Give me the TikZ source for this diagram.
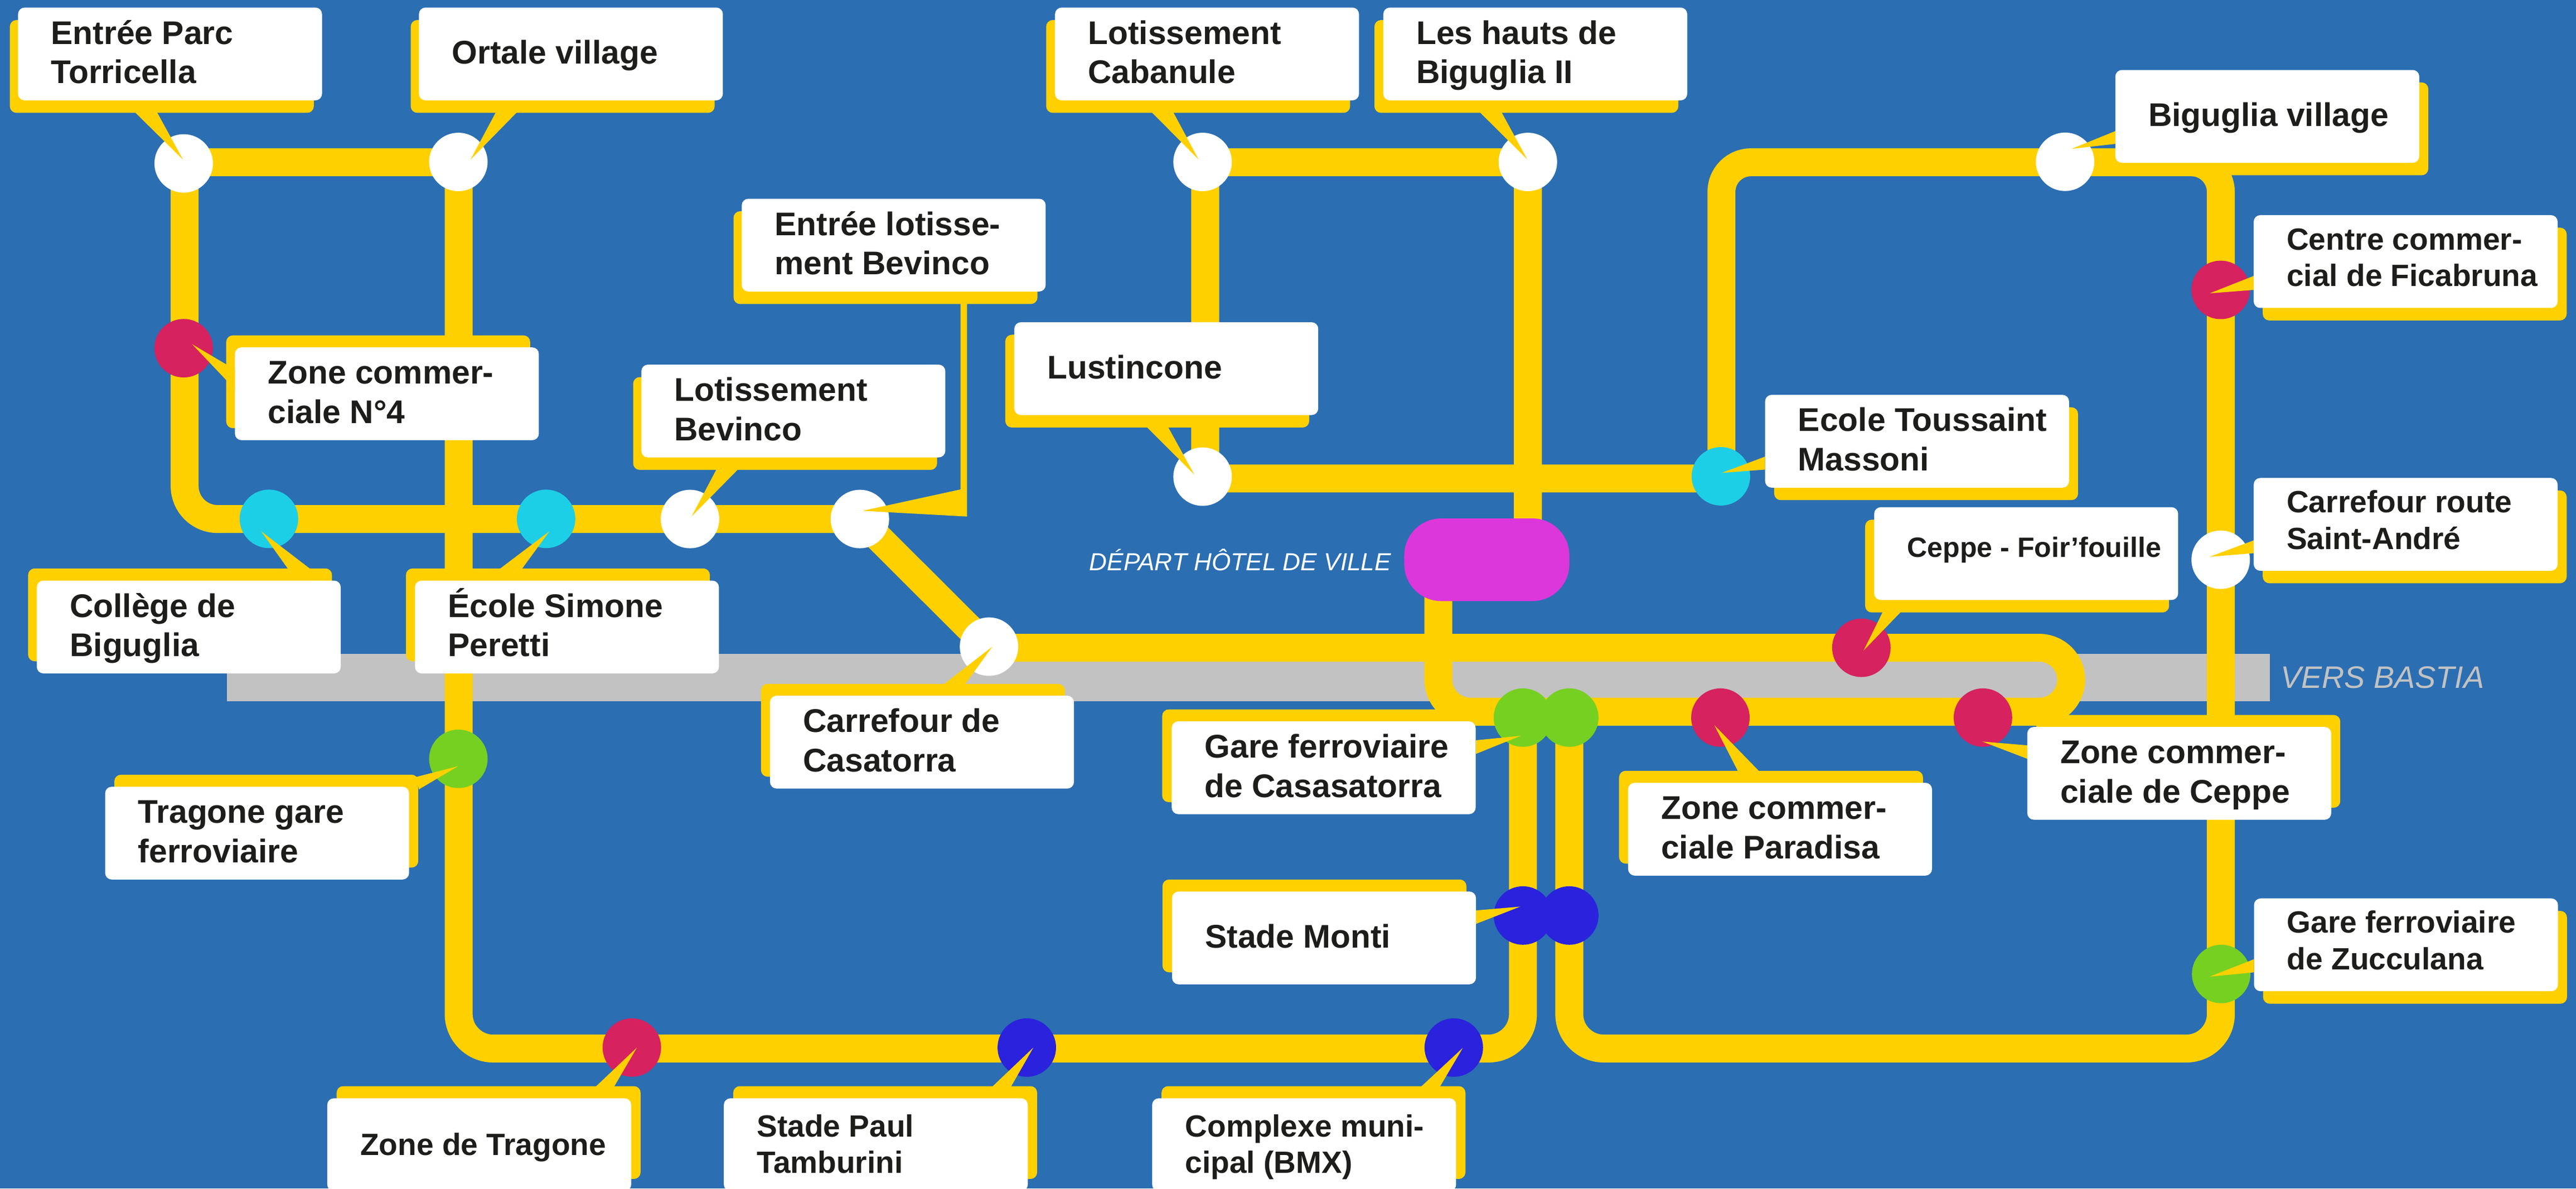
\documentclass[tikz,border=0pt]{standalone}
\usepackage{fontspec}
\setmainfont{Liberation Sans}
\definecolor{sea}{HTML}{2B6EB2}
\definecolor{road}{HTML}{C2C2C2}
\definecolor{yel}{HTML}{FFD000}
\definecolor{pinkstop}{HTML}{D6225F}
\definecolor{cyanstop}{HTML}{1DCFE6}
\definecolor{greenstop}{HTML}{76D022}
\definecolor{bluestop}{HTML}{2A22DC}
\definecolor{magstop}{HTML}{DC37DB}
\definecolor{ink}{HTML}{1D1D1B}
\tikzset{
  track/.style={draw=yel,line width=17pt,line cap=butt,line join=round},
  stopdot/.style={circle,minimum size=35.6pt,inner sep=0pt,outer sep=0pt},
  shadowbox/.style={anchor=north west,fill=yel,rounded corners=4pt,minimum width=185pt,minimum height=56.5pt,inner sep=0pt,outer sep=0pt},
  whitebox/.style={anchor=north west,fill=white,rounded corners=4pt,minimum width=185pt,inner xsep=4pt,inner ysep=0pt,minimum height=56.5pt,outer sep=0pt,text=ink},
  pointer/.style={fill=yel}
}
\newcommand{\bigtext}{\fontsize{19.95}{24}\bfseries\selectfont\def\lbld{8pt}}
\newcommand{\sidetext}{\fontsize{18.7}{22.3}\bfseries\selectfont\def\lbld{12pt}}
\newcommand{\lowtext}{\fontsize{18.7}{22.3}\bfseries\selectfont\def\lbld{7.4pt}}
\newcommand{\tinytext}{\fontsize{17}{20}\bfseries\selectfont\def\lbld{16pt}}
\newcommand{\lbl}[7][\bigtext]{%
  \node[shadowbox] (#2s) at ({#3+#5},{#4+#6}) {};
  \node[whitebox] (#2) at (#3,#4) {\hbox to 177pt{\hspace{16.1pt}\vbox{\hsize=160pt #1\parindent=0pt\raggedright\rule{0pt}{20pt}#7\rule[-\lbld]{0pt}{\lbld}\par}\hss}};
}
\begin{document}
\begin{tikzpicture}[x=1pt,y=-1pt]
\useasboundingbox (0,0) rectangle (1568,723.6);
\fill[sea] (0,0) rectangle (1568,723.6);
% road band
\fill[road] (138,398) rectangle (1381.7,427);
% track corners and junctions
\coordinate (c1) at (112.4,98.8);
\coordinate (c2) at (279.2,98.8);
\coordinate (c3) at (112.4,316);
\coordinate (c4) at (279.2,638.4);
\coordinate (c5) at (927,638.4);
\coordinate (c6) at (927,433.3);
\coordinate (m1) at (112.4,212);
\coordinate (j7) at (523.4,316);
\coordinate (j8) at (602,394.4);
\coordinate (l1) at (1260.7,394.4);
\coordinate (l2) at (1260.7,433.3);
\coordinate (l3) at (875.5,433.3);
\coordinate (l4) at (875.5,340);
\coordinate (u1) at (1047.8,291.3);
\coordinate (u2) at (733.6,291.3);
\coordinate (u3) at (733.6,98.8);
\coordinate (u4) at (930,98.8);
\coordinate (u5) at (930,340);
\coordinate (r1) at (955.2,433.3);
\coordinate (r2) at (955.2,638.4);
\coordinate (r3) at (1351.8,638.4);
\coordinate (r4) at (1351.8,98.8);
\coordinate (r5) at (1047.8,98.8);
% tracks
\draw[track,rounded corners=14pt] (c2) -- (c1) -- (m1);
\draw[track,rounded corners=20pt] (m1) -- (c3) -- (j7);
\draw[track,rounded corners=21pt] (c2) -- (c4) -- (c5) -- (c6);
\draw[track] (j7) -- (j8);
\draw[track,rounded corners=19.45pt] (j8) -- (l1) -- (l2) -- (l3) -- (l4);
\draw[track,rounded corners=14pt] (u1) -- (u2) -- (u3) -- (u4) -- (u5);
\draw[track,rounded corners=21pt] (r1) -- (r2) -- (r3) -- (1351.8,300);
\draw[track,rounded corners=18pt] (1351.8,300) -- (r4) -- (r5) -- (u1);
% departure
\node[fill=magstop,rounded corners=22.5pt,minimum width=100.5pt,minimum height=50.3pt,inner sep=0pt] (depart) at (905,340.8) {};
\node[anchor=base east,inner sep=0pt,text=white] (departl) at (847,347.2) {\fontsize{15}{16}\itshape\selectfont DÉPART HÔTEL DE VILLE};
\node[anchor=base west,inner sep=0pt,text=road] (bastia) at (1388,419) {\fontsize{18.9}{20}\itshape\selectfont VERS BASTIA};
% stops
\foreach \n/\x/\y/\c in {
 parc/111.8/99.5/white, ortale/279/98.6/white, zn4/111.8/212/pinkstop,
 college/163.7/315.9/cyanstop, ecole/332.4/315.9/cyanstop, lotb/420/316/white,
 entb/523.4/316/white, casat/602/393.7/white, trag/279/462/greenstop,
 ztrag/384.6/637.8/pinkstop, paul/625/637.8/bluestop, bmx/884.9/637.8/bluestop,
 garea/927/436.9/greenstop, gareb/955.2/436.9/greenstop,
 montia/927/557.4/bluestop, montib/955.2/557.4/bluestop,
 parad/1047.2/436.9/pinkstop, foir/1133/394.4/pinkstop, zcep/1207/436.9/pinkstop,
 zucc/1352/593/greenstop, andre/1351.7/340.8/white, fica/1351.7/176.5/pinkstop,
 bigv/1257/98.5/white, mass/1047.5/290/cyanstop, lust/732/290.2/white,
 caba/732/98.6/white, hauts/930/98.6/white}
 \node[stopdot,fill=\c] (\n) at (\x,\y) {};
% labels
\lbl{Lparc}{11}{4.6}{-5}{7.6}{Entrée Parc\\Torricella}
\lbl{Lortale}{255}{4.6}{-5}{7.6}{Ortale village}
\lbl{Lentb}{451.5}{121}{-5}{7.6}{Entrée lotisse-\\ment Bevinco}
\lbl{Lzn4}{143}{211.5}{-5.3}{-7.3}{Zone commer-\\ciale N°4}
\lbl{Llotb}{390.4}{222}{-5}{7.6}{Lotissement\\Bevinco}
\lbl{Lcollege}{22.4}{353.5}{-5.3}{-7.4}{Collège de\\Biguglia}
\lbl{Lecole}{252.6}{353.5}{-5.5}{-7.4}{École Simone\\Peretti}
\lbl{Ltrag}{64}{479}{5.6}{-7.3}{Tragone gare\\ferroviaire}
\lbl{Lcasat}{468.7}{423.6}{-5.5}{-7.2}{Carrefour de\\Casatorra}
\lbl{Lcaba}{642.2}{4.6}{-5.4}{7.6}{Lotissement\\Cabanule}
\lbl{Lhauts}{842}{4.6}{-5.4}{7.6}{Les hauts de\\Biguglia II}
\lbl{Llust}{617.4}{196.2}{-5.5}{7.6}{Lustincone}
\lbl{Lbigv}{1287.6}{42.6}{5.5}{7.6}{Biguglia village}
\lbl[\sidetext]{Lfica}{1371.8}{131}{5.5}{7.6}{Centre commer-\\cial de Ficabruna}
\lbl{Lmass}{1074.4}{240.4}{5.5}{7.6}{Ecole Toussaint\\Massoni}
\lbl[\sidetext]{Landre}{1371.8}{291}{5.5}{7.6}{Carrefour route\\Saint-André}
\lbl[\tinytext]{Lfoir}{1140.8}{308.8}{-5.5}{7.6}{Ceppe - Foir’fouille}
\lbl{Lzcep}{1234}{442.6}{5.5}{-7.3}{Zone commer-\\ciale de Ceppe}
\lbl{Lparad}{991}{476.6}{-5.5}{-7.3}{Zone commer-\\ciale Paradisa}
\lbl{Lgare}{713.2}{439.2}{-5.8}{-7.3}{Gare ferroviaire\\de Casasatorra}
\lbl{Lmonti}{713.4}{542.8}{-5.8}{-7.3}{Stade Monti}
\lbl[\sidetext]{Lzucc}{1372}{547}{5.5}{7.6}{Gare ferroviaire\\de Zucculana}
\lbl[\lowtext]{Lztrag}{199.2}{668.7}{5.7}{-7.4}{Zone de Tragone}
\lbl[\lowtext]{Lpaul}{440.6}{668.7}{5.7}{-7.4}{Stade Paul\\Tamburini}
\lbl[\lowtext]{Lbmx}{701.3}{668.7}{5.7}{-7.4}{Complexe muni-\\cipal (BMX)}
% callout pointers
\fill[pointer] (parc.center) ++(-0.4,-2.3) -- (81.8,68) -- (95.4,68) -- cycle;
\fill[pointer] (ortale.center) ++(7.4,-1.4) -- (302,68) -- (315,68) -- cycle;
\fill[pointer] (zn4.center) ++(5.2,-2.4) -- (143,225) -- (143,237) -- cycle;
\fill[pointer] (lotb.center) ++(1,-1.6) -- (436.5,285) -- (450,285) -- cycle;
\fill[pointer] (entb.center) ++(1.6,-5) -- (584.6,298) -- (584.6,185) -- (588.6,185) -- (588.6,314.5) -- cycle;
\fill[pointer] (college.center) ++(-4.7,7.6) -- (175.4,346.5) -- (189,346.5) -- cycle;
\fill[pointer] (ecole.center) ++(2,7.6) -- (304,346.5) -- (317.6,346.5) -- cycle;
\fill[pointer] (trag.center) ++(-0.2,4.5) -- (253.5,473) -- (255,480.6) -- cycle;
\fill[pointer] (casat.center) ++(2,0) -- (574,417) -- (587.2,417) -- cycle;
\fill[pointer] (caba.center) ++(-2.5,-1.6) -- (700.7,68) -- (714,68) -- cycle;
\fill[pointer] (hauts.center) ++(-0.4,-1.6) -- (900.4,68) -- (913.8,68) -- cycle;
\fill[pointer] (lust.center) ++(-5,-1.2) -- (698,260) -- (711,260) -- cycle;
\fill[pointer] (bigv.center) ++(4,-7.9) -- (1287.6,79.8) -- (1287.6,87.6) -- cycle;
\fill[pointer] (fica.center) ++(-6.7,2.1) -- (1371.8,168) -- (1371.8,176.5) -- cycle;
\fill[pointer] (mass.center) ++(0.5,-2.1) -- (1074.4,278) -- (1074.4,285.9) -- cycle;
\fill[pointer] (andre.center) ++(-6.7,-1.8) -- (1371.8,329) -- (1371.8,336.8) -- cycle;
\fill[pointer] (foir.center) ++(1.4,1.6) -- (1146,372.6) -- (1157,372.6) -- cycle;
\fill[pointer] (zcep.center) ++(-0.4,14.6) -- (1234,453.8) -- (1234,462) -- cycle;
\fill[pointer] (parad.center) ++(-3.7,4.6) -- (1058,469.8) -- (1071,469.8) -- cycle;
\fill[pointer] (garea.center) ++(-1.4,11.1) -- (898.4,450.7) -- (898.4,459) -- cycle;
\fill[pointer] (montia.center) ++(-1.7,-5.4) -- (898.4,554.3) -- (898.4,562.5) -- cycle;
\fill[pointer] (zucc.center) ++(-7,1.6) -- (1372,584) -- (1372,592) -- cycle;
\fill[pointer] (ztrag.center) ++(3.1,0) -- (362.6,661.6) -- (373.8,661.6) -- cycle;
\fill[pointer] (paul.center) ++(4,0) -- (604,661.6) -- (615.4,661.6) -- cycle;
\fill[pointer] (bmx.center) ++(5.5,0.2) -- (865,661.6) -- (876.5,661.6) -- cycle;
\end{tikzpicture}
\end{document}
